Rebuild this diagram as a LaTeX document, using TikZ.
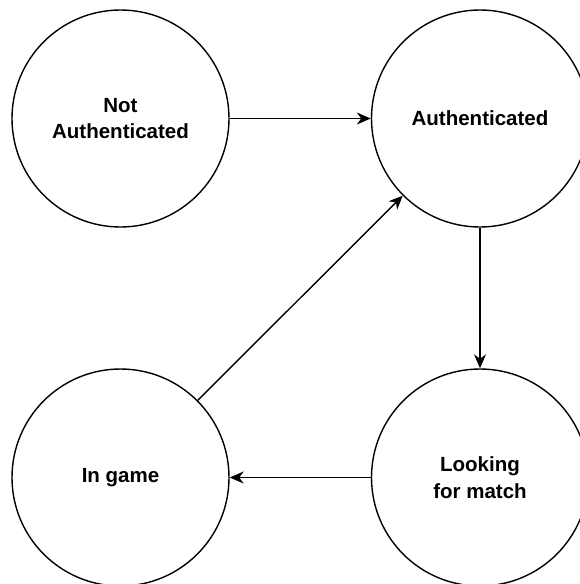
\documentclass[tikz,border=0pt]{standalone}
\usepackage{fontspec}
\setmainfont{Liberation Sans}
\usetikzlibrary{arrows.meta}
\begin{document}
\begin{tikzpicture}[x=1pt,y=-1pt,
  state/.style={circle,draw=black,line width=1.4pt,fill=white,minimum size=217pt,inner sep=0pt,
    align=center,font=\fontsize{20.5}{26.5}\selectfont\bfseries},
  arr/.style={draw=black,line width=1.4pt,-{Stealth[length=14pt,width=12pt,inset=4.5pt]}}]
  \fill[white] (0,0) rectangle (579,584);
  \useasboundingbox (0,0) rectangle (579,584);
  \node[state] (na) at (120.5,118.5) {Not\\Authenticated};
  \node[state] (au) at (480,118.5) {Authenticated};
  \node[state] (lm) at (480,477.5) {Looking\\for match};
  \node[state] (ig) at (120.5,477.5) {In game};
  \draw[arr] (na) -- (au);
  \draw[arr] (au) -- (lm);
  \draw[arr] (lm) -- (ig);
  \draw[arr] (ig) -- (au);
\end{tikzpicture}
\end{document}
